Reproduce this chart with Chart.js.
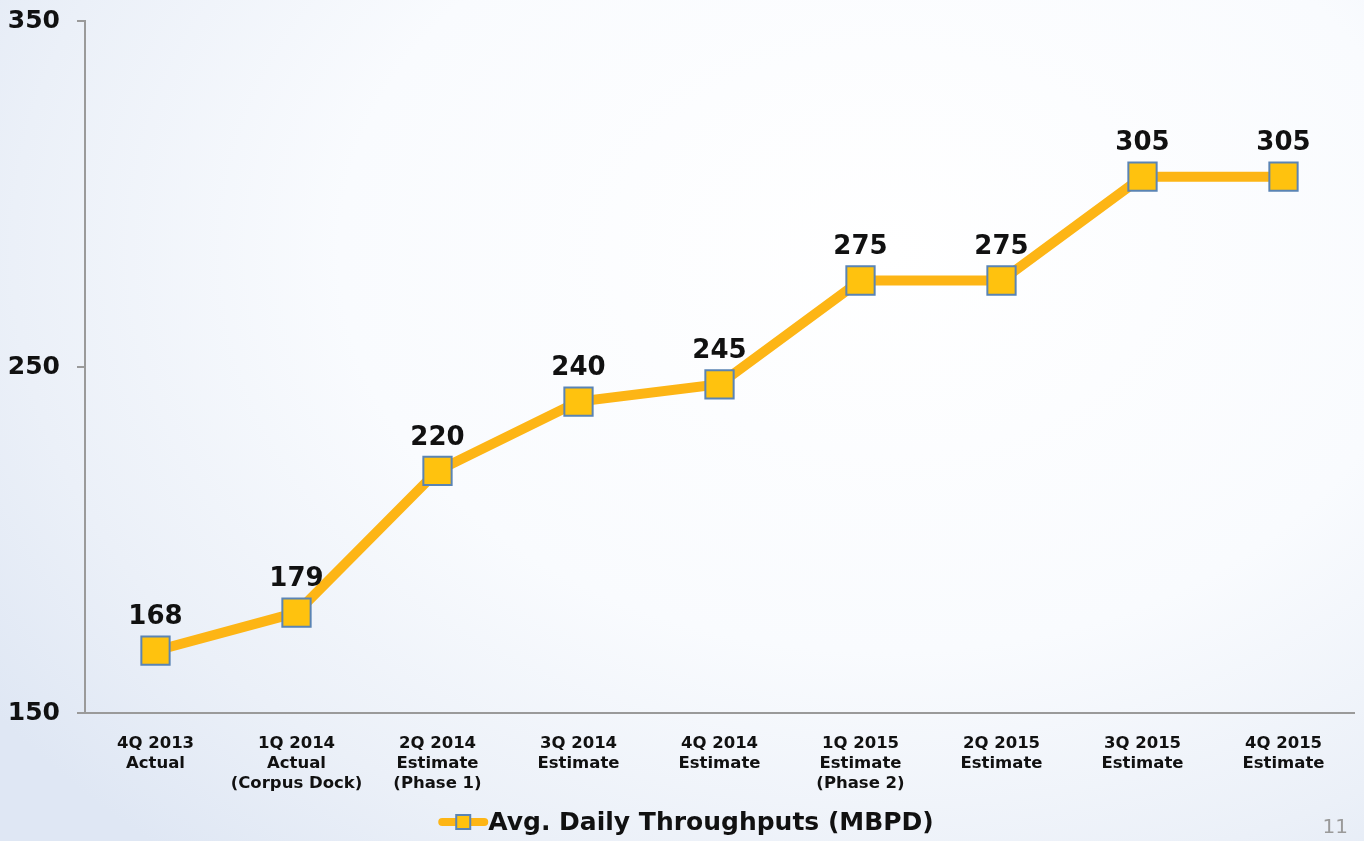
<!DOCTYPE html>
<html>
<head>
<meta charset="utf-8">
<script src="https://cdn.jsdelivr.net/npm/chart.js@4"></script>
<style>
    html, body { margin: 0; padding: 0; }
    body {
        width: 1364px;
        height: 841px;
        overflow: hidden;
        background: radial-gradient(ellipse 80% 95% at 65% 30%, #ffffff 0%, #f9fbfe 50%, #ebf0f8 80%, #dfe7f4 100%);
    }
    #wrap { position: relative; width: 1364px; height: 841px; }
</style>
</head>
<body>
<div id="wrap"><canvas id="chart"></canvas></div>
<script>
// Data
const categories = [
    ['4Q 2013', 'Actual'],
    ['1Q 2014', 'Actual', '(Corpus Dock)'],
    ['2Q 2014', 'Estimate', '(Phase 1)'],
    ['3Q 2014', 'Estimate'],
    ['4Q 2014', 'Estimate'],
    ['1Q 2015', 'Estimate', '(Phase 2)'],
    ['2Q 2015', 'Estimate'],
    ['3Q 2015', 'Estimate'],
    ['4Q 2015', 'Estimate']
];
const throughputs = [168, 179, 220, 240, 245, 275, 275, 305, 305];
const yTicks = [150, 250, 350];
const seriesLabel = 'Avg. Daily Throughputs (MBPD)';
const pageNumber = '11';

const LINE_COLOR = '#fdb515';
const MARKER_FILL = '#ffc20e';
const MARKER_BORDER = '#5a84b4';
const FONT = '"DejaVu Sans", Verdana, sans-serif';

// value labels above each point
const valueLabels = {
    id: 'valueLabels',
    afterDatasetsDraw(chart) {
        const ctx = chart.ctx;
        const meta = chart.getDatasetMeta(0);
        ctx.save();
        ctx.font = 'bold 26px ' + FONT;
        ctx.fillStyle = '#111';
        ctx.textAlign = 'center';
        ctx.textBaseline = 'middle';
        meta.data.forEach((pt, i) => {
            ctx.fillText(String(throughputs[i]), pt.x, pt.y - 33);
        });
        ctx.restore();
    }
};

// legend + page number at the bottom
const footer = {
    id: 'footer',
    afterDraw(chart) {
        const ctx = chart.ctx;
        const y = 822;
        ctx.save();
        ctx.font = 'bold 25px ' + FONT;
        const tw = ctx.measureText(seriesLabel).width;
        const symW = 50;
        const startX = 686 - (symW + tw) / 2;
        // line piece
        ctx.strokeStyle = LINE_COLOR;
        ctx.lineWidth = 8;
        ctx.lineCap = 'round';
        ctx.beginPath();
        ctx.moveTo(startX + 4, y);
        ctx.lineTo(startX + symW - 4, y);
        ctx.stroke();
        // marker
        ctx.fillStyle = MARKER_FILL;
        ctx.strokeStyle = MARKER_BORDER;
        ctx.lineWidth = 2;
        ctx.fillRect(startX + symW / 2 - 7, y - 7, 14, 14);
        ctx.strokeRect(startX + symW / 2 - 7, y - 7, 14, 14);
        // text
        ctx.fillStyle = '#111';
        ctx.textAlign = 'left';
        ctx.textBaseline = 'middle';
        ctx.fillText(seriesLabel, startX + symW, y + 1);
        // page number
        ctx.font = '20px ' + FONT;
        ctx.fillStyle = '#9a9a9a';
        ctx.textAlign = 'right';
        ctx.fillText(pageNumber, 1348, 828);
        ctx.restore();
    }
};

const canvas = document.getElementById('chart');
canvas.width = 1364;
canvas.height = 841;

new Chart(canvas.getContext('2d'), {
    type: 'line',
    data: {
        labels: categories,
        datasets: [{
            label: seriesLabel,
            data: throughputs,
            borderColor: LINE_COLOR,
            borderWidth: 10,
            tension: 0,
            pointStyle: 'rect',
            pointRadius: 20,
            pointHoverRadius: 20,
            pointBackgroundColor: MARKER_FILL,
            pointBorderColor: MARKER_BORDER,
            pointBorderWidth: 2
        }]
    },
    options: {
        responsive: false,
        animation: false,
        devicePixelRatio: 1,
        layout: {
            autoPadding: false,
            padding: { top: 21, right: 10, left: 0, bottom: 0 }
        },
        plugins: {
            legend: { display: false },
            tooltip: { enabled: false }
        },
        scales: {
            x: {
                offset: true,
                grid: { display: false },
                border: { display: true, color: '#9a9a9a', width: 2 },
                ticks: {
                    color: '#111',
                    font: { family: FONT, size: 16.5, weight: 'bold', lineHeight: 1.2 },
                    padding: 13,
                    maxRotation: 0,
                    autoSkip: false
                },
                afterFit(scale) {
                    scale.height = 128;
                    scale.paddingLeft = 0;
                    scale.paddingRight = 0;
                }
            },
            y: {
                min: 150,
                max: 350,
                afterBuildTicks(scale) {
                    scale.ticks = yTicks.map(v => ({ value: v }));
                },
                grid: {
                    drawOnChartArea: false,
                    drawTicks: true,
                    tickLength: 8,
                    color: '#9a9a9a',
                    lineWidth: 2
                },
                border: { display: true, color: '#9a9a9a', width: 2 },
                ticks: {
                    color: '#111',
                    font: { family: FONT, size: 25, weight: 'bold' },
                    padding: 17
                },
                afterFit(scale) {
                    scale.width = 85;
                    scale.paddingTop = 0;
                    scale.paddingBottom = 0;
                }
            }
        }
    },
    plugins: [valueLabels, footer]
});
</script>
</body>
</html>
